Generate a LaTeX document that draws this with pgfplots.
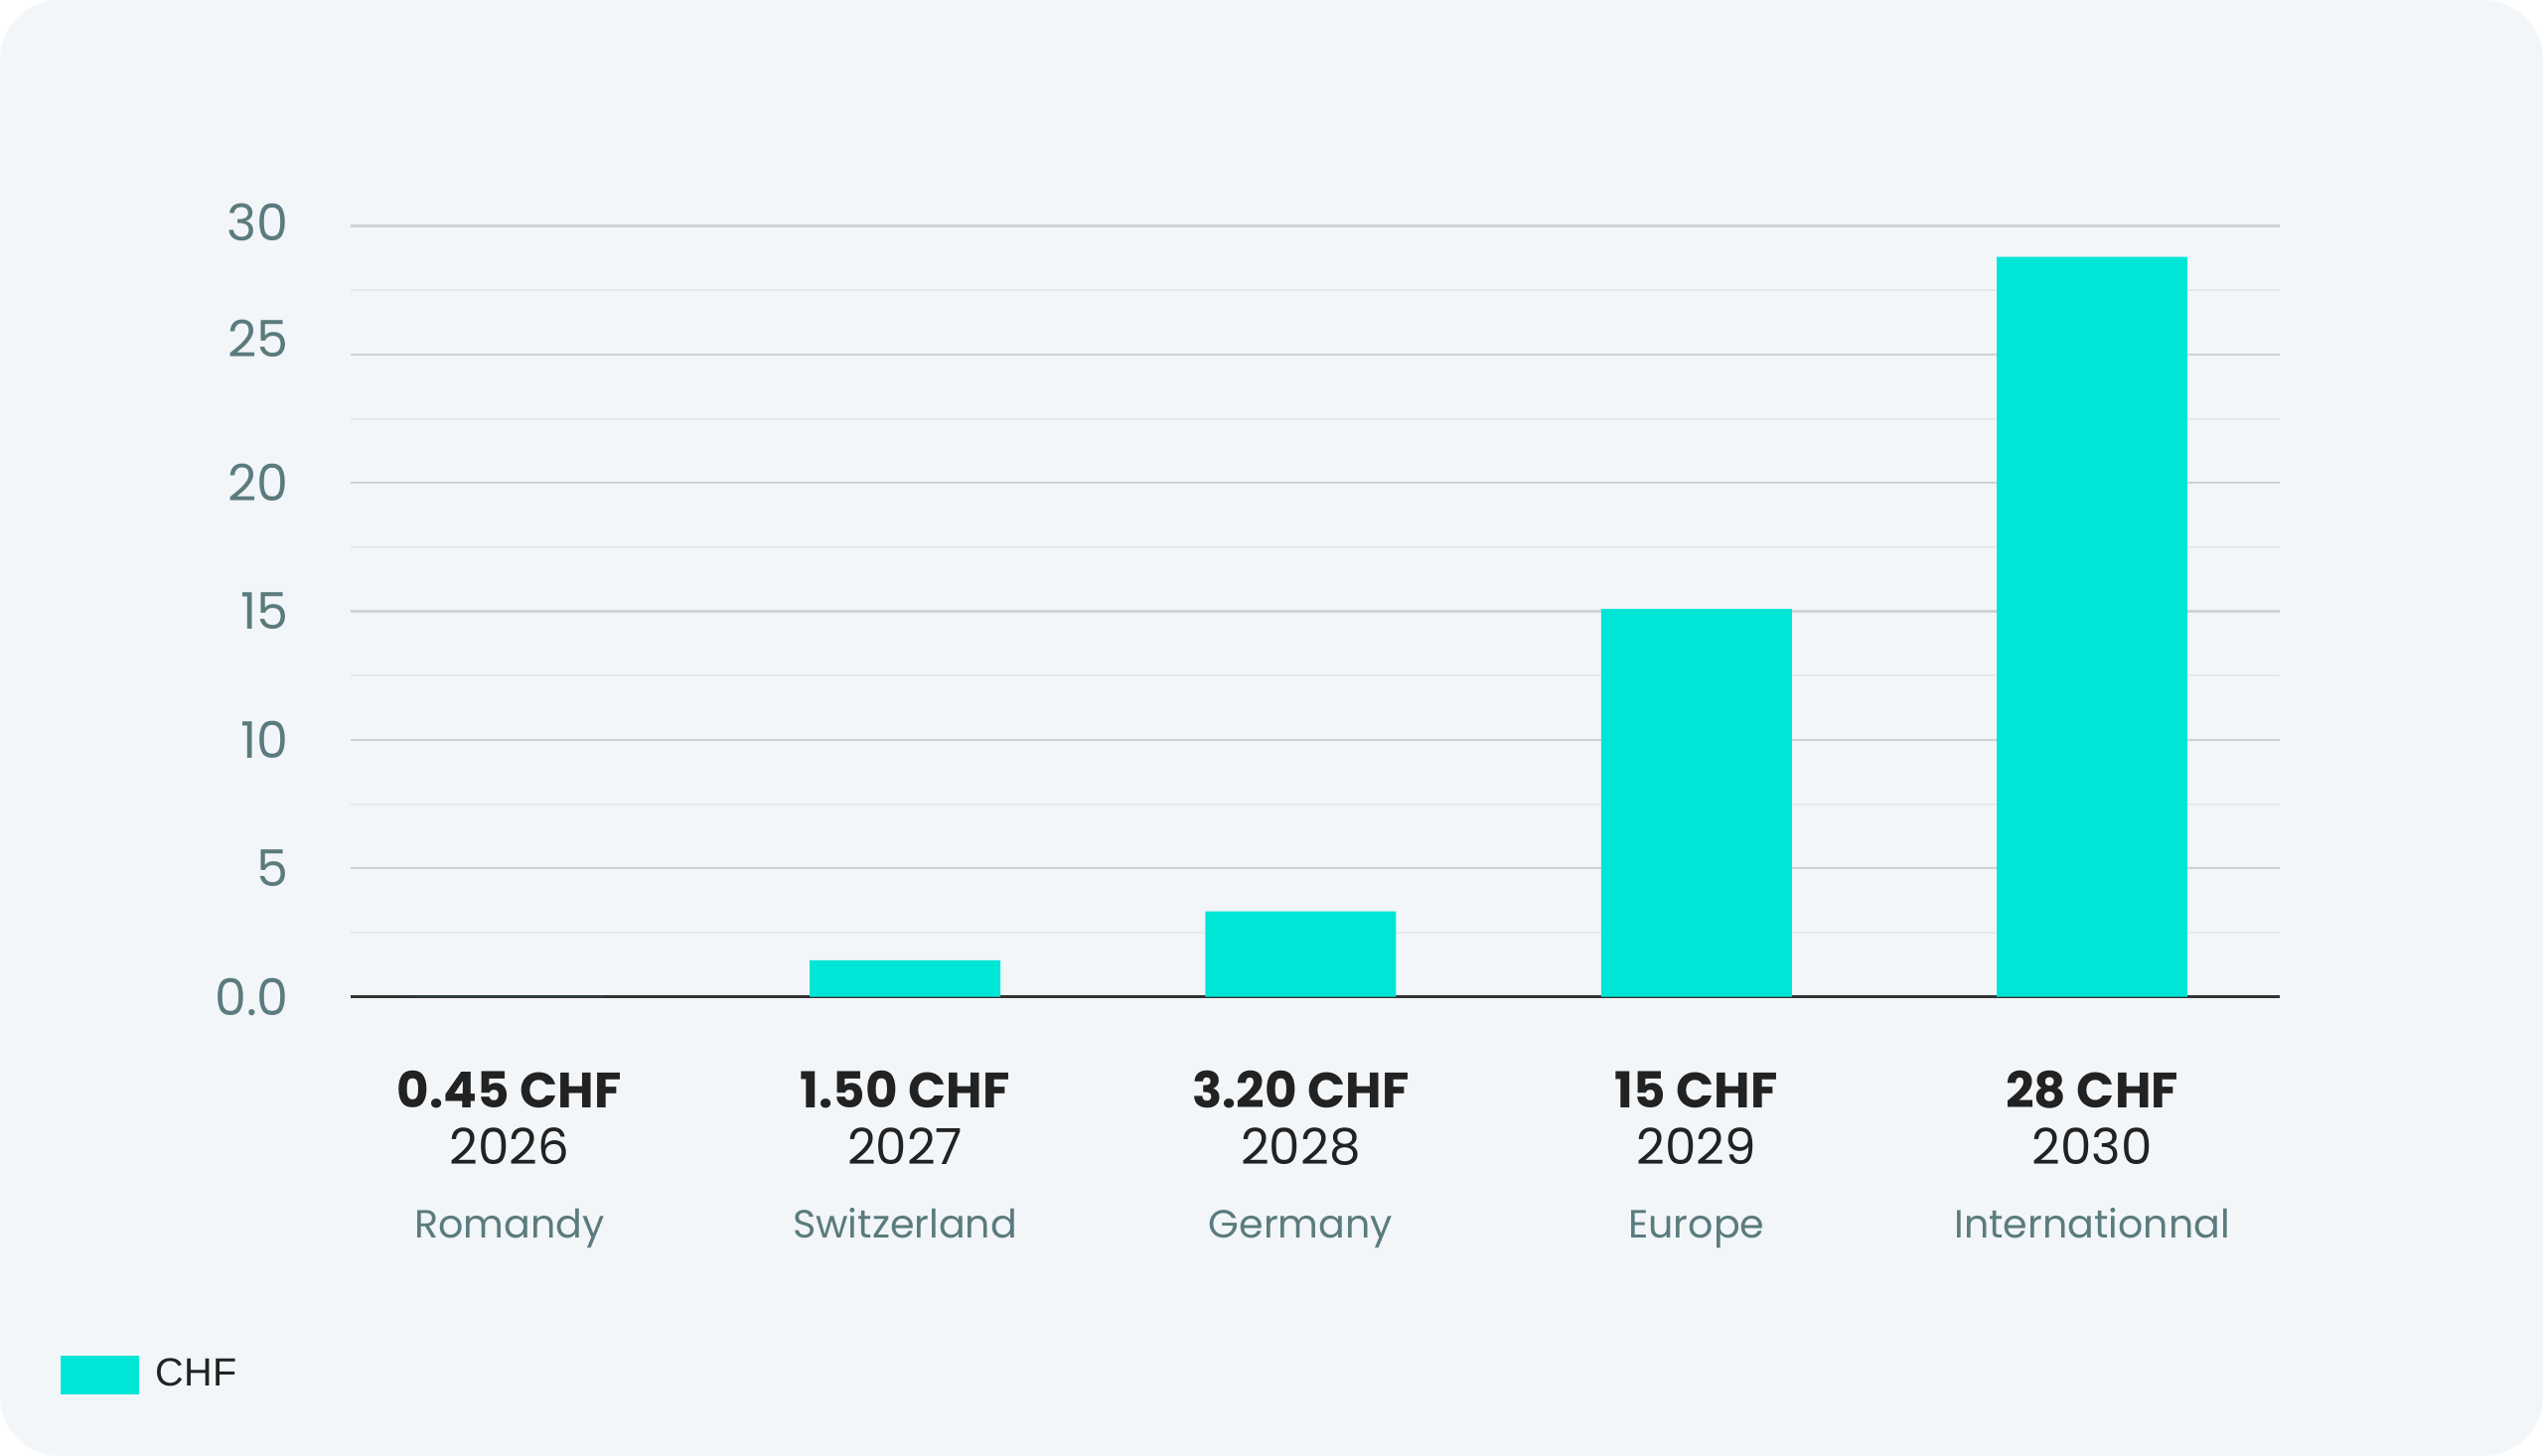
\documentclass[border=0pt]{standalone}
\usepackage{pgfplots}
\pgfplotsset{compat=1.18}
\usepackage{fontspec}
\setmainfont{Poppins}
\newfontfamily\legfont{Liberation Sans}

\definecolor{bg}{HTML}{F2F6F9}
\definecolor{barcol}{HTML}{00E6D6}
\definecolor{tickcol}{HTML}{5B7B7E}
\definecolor{ink}{HTML}{222222}
\definecolor{majorcol}{HTML}{CFD2D4}
\definecolor{minorcol}{HTML}{E6E9EB}
\definecolor{zerocol}{HTML}{333333}

% three-line category label: value, year, region
\newcommand\lbl[3]{\vbox{\baselineskip=14.4pt\lineskiplimit=-\maxdimen
  \halign{\hfil##\hfil\cr
    {\fontsize{12.5}{14}\bfseries\color{ink}#1}\cr
    {\fontsize{12.5}{14}\selectfont\color{ink}#2}\cr
    \noalign{\vskip4.1pt}
    {\fontsize{9.9}{11}\selectfont\color{tickcol}#3}\cr}}}

\begin{document}
\begin{tikzpicture}
\useasboundingbox (0pt,0pt) rectangle (640pt,366.5pt);
\fill[white] (0pt,0pt) rectangle (640pt,366.5pt);
\fill[bg, rounded corners=15pt] (0pt,0pt) rectangle (640pt,366.5pt);
\begin{axis}[
    at={(88.25pt,115.6pt)}, anchor=south west,
    scale only axis, width=485.5pt, height=194pt,
    xmin=-0.401, xmax=4.474, ymin=0, ymax=30,
    ybar, bar width=48pt,
    xtick=data,
    xticklabels={\lbl{0.45 CHF}{2026}{Romandy},
                 \lbl{1.50 CHF}{2027}{Switzerland},
                 \lbl{3.20 CHF}{2028}{Germany},
                 \lbl{15 CHF}{2029}{Europe},
                 \lbl{28 CHF}{2030}{Internationnal}},
    xticklabel style={anchor=base, inner sep=0pt, yshift=-60.8pt},
    ytick={0,5,...,30},
    yticklabels={0.0,5,10,{\raisebox{-0.7pt}{15}},{\raisebox{-1pt}{20}},
                 {\raisebox{8pt}{25}},{\raisebox{2pt}{30}}},
    yticklabel style={anchor=east, inner sep=0pt, xshift=-15.4pt,
        font=\fontsize{12.7}{15}\selectfont, text=tickcol},
    minor ytick={2.5,7.5,...,27.5},
    ymajorgrids, yminorgrids,
    major grid style={majorcol, line width=0.6pt},
    minor grid style={minorcol, line width=0.5pt},
    major tick length=0pt, minor tick length=0pt,
    tick style={draw=none},
    axis x line*=bottom, axis y line*=left,
    y axis line style={draw=none},
    x axis line style={zerocol, line width=0.75pt, -},
    legend style={at={(axis description cs:-0.15036,-0.4908)}, anchor=west,
        draw=none, fill=none, inner sep=0pt, outer sep=0pt,
        font=\legfont\fontsize{9.9}{11}\selectfont, text=ink,
        nodes={inner sep=0pt},
        /tikz/every odd column/.style={column sep=4.25pt}},
]
\addplot[fill=barcol, draw=none,
    legend image code/.code={\fill[barcol] (0pt,-4.875pt) rectangle (19.75pt,4.875pt);}]
    coordinates {(0,0) (1,1.42) (2,3.32) (3,15.1) (4,28.8)};
\addlegendentry{CHF}
\end{axis}
\end{tikzpicture}
\end{document}
